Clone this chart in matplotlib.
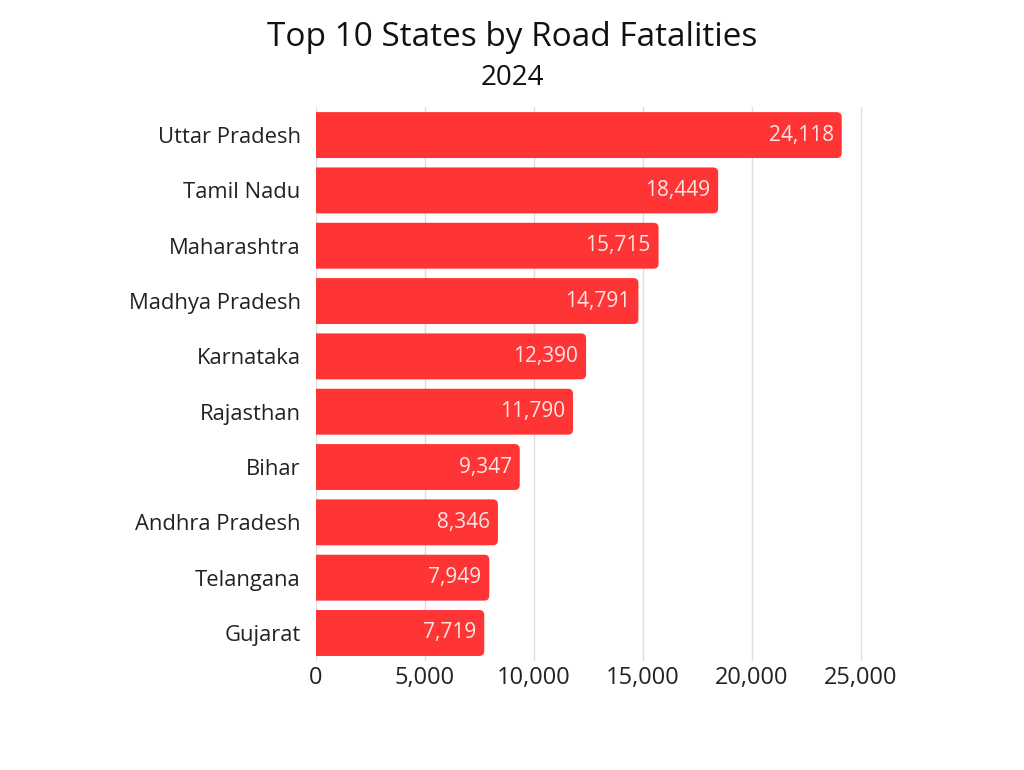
import matplotlib
matplotlib.use("Agg")
import matplotlib.pyplot as plt
from matplotlib.patches import FancyBboxPatch

states = ["Uttar Pradesh", "Tamil Nadu", "Maharashtra", "Madhya Pradesh", "Karnataka",
          "Rajasthan", "Bihar", "Andhra Pradesh", "Telangana", "Gujarat"]
fatalities = [24118, 18449, 15715, 14791, 12390, 11790, 9347, 8346, 7949, 7719]
xticks = [0, 5000, 10000, 15000, 20000, 25000]

plt.rcParams["font.family"] = ["Open Sans", "DejaVu Sans"]

fig = plt.figure(figsize=(10.24, 7.7), dpi=100)
ax_w = 0.5343
ax_h = 0.7185
ax = fig.add_axes([0.3086, 0.142, ax_w, ax_h])

xmax = 25100
ax.set_xlim(0, xmax)
ax.set_ylim(len(states) - 0.5, -0.5)

# rounded right ends: radius in pixels converted to data units
r_px = 5
bar_h = 0.83
x_per_px = xmax / (ax_w * 1024)
y_per_px = len(states) / (ax_h * 770)
rx = r_px * x_per_px
for i, v in enumerate(fatalities):
    box = FancyBboxPatch((-rx * 2, i - bar_h / 2), v + rx * 2, bar_h,
                         boxstyle=f"round,pad=0,rounding_size={rx}",
                         mutation_aspect=y_per_px / x_per_px,
                         facecolor="#ff3434", edgecolor="none", zorder=3)
    ax.add_patch(box)
    ax.text(v - 8 * x_per_px, i, f"{v:,}", ha="right", va="center",
            color="#fbe6e6", fontsize=15, zorder=4)

ax.set_yticks(range(len(states)))
ax.set_yticklabels(states, fontsize=15.8, color="#222222")
ax.set_xticks(xticks)
ax.set_xticklabels([f"{t:,}" for t in xticks], fontsize=17, color="#222222")
ax.tick_params(length=0)
ax.tick_params(axis="y", pad=11)
ax.tick_params(axis="x", pad=4)
ax.grid(axis="x", color="#dddddd", linewidth=1, zorder=0)
ax.set_axisbelow(True)
for s in ax.spines.values():
    s.set_visible(False)

fig.text(0.5, 0.951, "Top 10 States by Road Fatalities", ha="center", va="center",
         fontsize=24, color="#111111")
fig.text(0.5, 0.899, "2024", ha="center", va="center", fontsize=20, color="#111111")

fig.savefig("out.png", dpi=100, facecolor="white")
